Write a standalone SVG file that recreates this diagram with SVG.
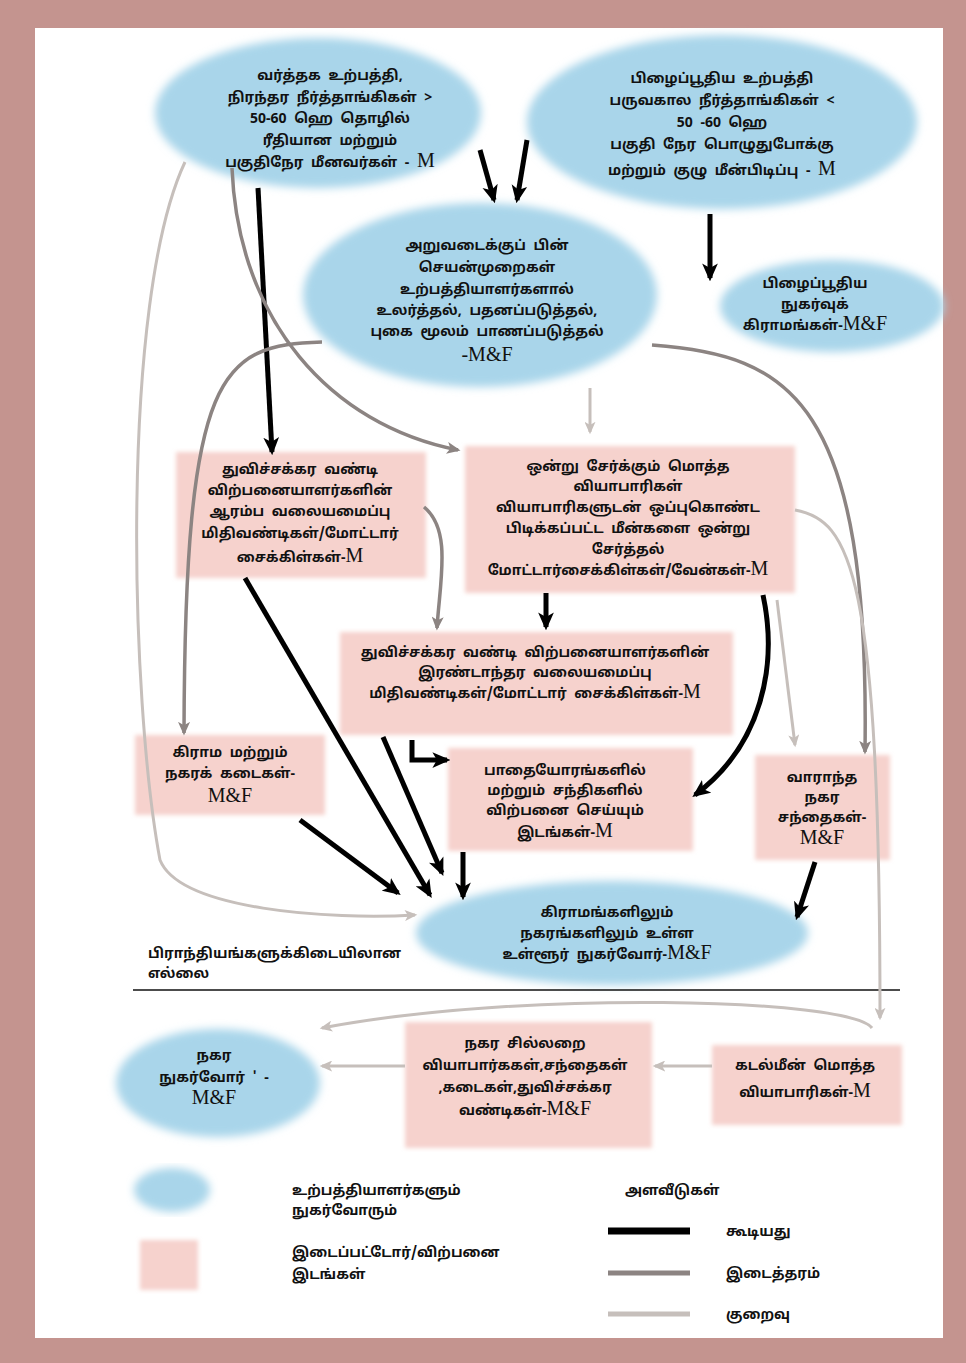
<svg xmlns="http://www.w3.org/2000/svg" width="966" height="1363" viewBox="0 0 966 1363">
  <style>
    .ta { font-family: "Noto Sans Tamil", "Lohit Tamil", "Noto Sans", "DejaVu Sans", sans-serif; font-size: 14px; font-weight: 700; word-spacing: 4px; fill: #111; text-anchor: middle; }
    .lt { text-anchor: start; }
    .lat { font-family: "Liberation Serif", serif; font-size: 20px; font-weight: 400; }
    .blue { fill: #a9d5ea; filter: url(#soft); }
    .pink { fill: #f6d2cd; filter: url(#soft2); }
    .hi { stroke: #000; stroke-width: 5; fill: none; marker-end: url(#ahB); }
    .md { stroke: #8c8482; stroke-width: 3.5; fill: none; marker-end: url(#ahM); }
    .lo { stroke: #c6bfbb; stroke-width: 3; fill: none; marker-end: url(#ahL); }
  </style>
  <defs>
    <filter id="soft" x="-10%" y="-10%" width="120%" height="120%"><feGaussianBlur stdDeviation="4"/></filter>
    <filter id="soft2" x="-10%" y="-10%" width="120%" height="120%"><feGaussianBlur stdDeviation="2"/></filter>
    <marker id="ahB" viewBox="0 0 16 14" refX="13" refY="7" markerWidth="18" markerHeight="16" markerUnits="userSpaceOnUse" orient="auto">
      <path d="M0,0 L16,7 L0,14 L4,7 z" fill="#000"/>
    </marker>
    <marker id="ahM" viewBox="0 0 16 14" refX="13" refY="7" markerWidth="14" markerHeight="12" markerUnits="userSpaceOnUse" orient="auto">
      <path d="M0,0 L16,7 L0,14 L4,7 z" fill="#8c8482"/>
    </marker>
    <marker id="ahL" viewBox="0 0 16 14" refX="13" refY="7" markerWidth="13" markerHeight="11" markerUnits="userSpaceOnUse" orient="auto">
      <path d="M0,0 L16,7 L0,14 L4,7 z" fill="#c6bfbb"/>
    </marker>
  </defs>

  <!-- frame -->
  <rect x="0" y="0" width="966" height="1363" fill="#c4948f"/>
  <rect x="35" y="28" width="908" height="1310" fill="#ffffff"/>

  <!-- nodes -->
  <g id="n-commercial">
    <ellipse class="blue" cx="318" cy="113" rx="163" ry="75"/>
    <text class="ta" x="330" y="80">வர்த்தக உற்பத்தி,</text>
    <text class="ta" x="330" y="102">நிரந்தர நீர்த்தாங்கிகள் &gt;</text>
    <text class="ta" x="330" y="123">50-60 ஹெ தொழில்</text>
    <text class="ta" x="330" y="145">ரீதியான மற்றும்</text>
    <text class="ta" x="330" y="167">பகுதிநேர மீனவர்கள் - <tspan class="lat">M</tspan></text>
  </g>

  <g id="n-subsistence">
    <ellipse class="blue" cx="722" cy="122" rx="195" ry="87"/>
    <text class="ta" x="722" y="83">பிழைப்பூதிய உற்பத்தி</text>
    <text class="ta" x="722" y="105">பருவகால நீர்த்தாங்கிகள் &lt;</text>
    <text class="ta" x="722" y="127">50 -60 ஹெ</text>
    <text class="ta" x="722" y="149">பகுதி நேர பொழுதுபோக்கு</text>
    <text class="ta" x="722" y="175">மற்றும் குழு மீன்பிடிப்பு - <tspan class="lat">M</tspan></text>
  </g>

  <g id="n-postharvest">
    <ellipse class="blue" cx="480" cy="295" rx="177" ry="92"/>
    <text class="ta" x="487" y="250">அறுவடைக்குப் பின்</text>
    <text class="ta" x="487" y="272">செயன்முறைகள்</text>
    <text class="ta" x="487" y="294">உற்பத்தியாளர்களால்</text>
    <text class="ta" x="487" y="315">உலர்த்தல், பதனப்படுத்தல்,</text>
    <text class="ta" x="487" y="336">புகை மூலம் பாணப்படுத்தல்</text>
    <text class="ta" x="487" y="361"><tspan class="lat">-M&amp;F</tspan></text>
  </g>

  <g id="n-subsistence-villages">
    <ellipse class="blue" cx="832" cy="306" rx="112" ry="46"/>
    <text class="ta" x="815" y="288">பிழைப்பூதிய</text>
    <text class="ta" x="815" y="309">நுகர்வுக்</text>
    <text class="ta" x="815" y="330">கிராமங்கள்-<tspan class="lat">M&amp;F</tspan></text>
  </g>

  <g id="n-bicycle-primary">
    <rect class="pink" x="176" y="452" width="250" height="126"/>
    <text class="ta" x="300" y="474">துவிச்சக்கர வண்டி</text>
    <text class="ta" x="300" y="495">விற்பனையாளர்களின்</text>
    <text class="ta" x="300" y="516">ஆரம்ப வலையமைப்பு</text>
    <text class="ta" x="300" y="538">மிதிவண்டிகள்/மோட்டார்</text>
    <text class="ta" x="300" y="562">சைக்கிள்கள்-<tspan class="lat">M</tspan></text>
  </g>

  <g id="n-collectors">
    <rect class="pink" x="465" y="446" width="330" height="147"/>
    <text class="ta" x="628" y="471">ஒன்று சேர்க்கும் மொத்த</text>
    <text class="ta" x="628" y="491">வியாபாரிகள்</text>
    <text class="ta" x="628" y="512">வியாபாரிகளுடன் ஒப்புகொண்ட</text>
    <text class="ta" x="628" y="533">பிடிக்கப்பட்ட மீன்களை ஒன்று</text>
    <text class="ta" x="628" y="554">சேர்த்தல்</text>
    <text class="ta" x="628" y="575">மோட்டார்சைக்கிள்கள்/வேன்கள்-<tspan class="lat">M</tspan></text>
  </g>

  <g id="n-bicycle-secondary">
    <rect class="pink" x="340" y="632" width="393" height="103"/>
    <text class="ta" x="535" y="657">துவிச்சக்கர வண்டி விற்பனையாளர்களின்</text>
    <text class="ta" x="535" y="677">இரண்டாந்தர வலையமைப்பு</text>
    <text class="ta" x="535" y="698">மிதிவண்டிகள்/மோட்டார் சைக்கிள்கள்-<tspan class="lat">M</tspan></text>
  </g>

  <g id="n-shops">
    <rect class="pink" x="135" y="735" width="190" height="80"/>
    <text class="ta" x="230" y="757">கிராம மற்றும்</text>
    <text class="ta" x="230" y="778">நகரக் கடைகள்-</text>
    <text class="ta" x="230" y="802"><tspan class="lat">M&amp;F</tspan></text>
  </g>

  <g id="n-roadside">
    <rect class="pink" x="448" y="748" width="245" height="103"/>
    <text class="ta" x="565" y="775">பாதையோரங்களில்</text>
    <text class="ta" x="565" y="795">மற்றும் சந்திகளில்</text>
    <text class="ta" x="565" y="815">விற்பனை செய்யும்</text>
    <text class="ta" x="565" y="837">இடங்கள்-<tspan class="lat">M</tspan></text>
  </g>

  <g id="n-weekly">
    <rect class="pink" x="755" y="755" width="135" height="105"/>
    <text class="ta" x="822" y="782">வாராந்த</text>
    <text class="ta" x="822" y="802">நகர</text>
    <text class="ta" x="822" y="822">சந்தைகள்-</text>
    <text class="ta" x="822" y="844"><tspan class="lat">M&amp;F</tspan></text>
  </g>

  <g id="n-local-consumers">
    <ellipse class="blue" cx="612" cy="933" rx="196" ry="52"/>
    <text class="ta" x="607" y="917">கிராமங்களிலும்</text>
    <text class="ta" x="607" y="938">நகரங்களிலும் உள்ள</text>
    <text class="ta" x="607" y="959">உள்ளூர் நுகர்வோர்-<tspan class="lat">M&amp;F</tspan></text>
  </g>

  <g id="n-boundary">
    <text class="ta lt" x="148" y="958">பிராந்தியங்களுக்கிடையிலான</text>
    <text class="ta lt" x="148" y="978">எல்லை</text>
    <line x1="133" y1="990" x2="900" y2="990" stroke="#111" stroke-width="1.5"/>
  </g>

  <g id="n-urban-consumers">
    <ellipse class="blue" cx="218" cy="1083" rx="102" ry="54"/>
    <text class="ta" x="214" y="1060">நகர</text>
    <text class="ta" x="214" y="1082">நுகர்வோர் ' -</text>
    <text class="ta" x="214" y="1104"><tspan class="lat">M&amp;F</tspan></text>
  </g>

  <g id="n-urban-retail">
    <rect class="pink" x="405" y="1022" width="247" height="126"/>
    <text class="ta" x="525" y="1048">நகர சில்லறை</text>
    <text class="ta" x="525" y="1070">வியாபார்ககள்,சந்தைகள்</text>
    <text class="ta" x="525" y="1092">,கடைகள்,துவிச்சக்கர</text>
    <text class="ta" x="525" y="1115">வண்டிகள்-<tspan class="lat">M&amp;F</tspan></text>
  </g>

  <g id="n-marine-wholesale">
    <rect class="pink" x="712" y="1045" width="190" height="80"/>
    <text class="ta" x="805" y="1070">கடல்மீன் மொத்த</text>
    <text class="ta" x="805" y="1097">வியாபாரிகள்-<tspan class="lat">M</tspan></text>
  </g>

  <!-- connectors -->
  <g id="connectors">
    <!-- high volume -->
    <path class="hi" d="M258,188 L272,452"/>
    <path class="hi" d="M480,150 L494,200"/>
    <path class="hi" d="M527,140 L517,200"/>
    <path class="hi" d="M710,214 L710,278"/>
    <path class="hi" d="M546,593 L546,627"/>
    <path class="hi" d="M763,595 C778,665 762,745 695,795"/>
    <path class="hi" d="M245,578 L430,895"/>
    <path class="hi" d="M383,737 L442,873"/>
    <path class="hi" d="M300,820 L398,893"/>
    <path class="hi" d="M463,852 L463,897"/>
    <path class="hi" d="M412,740 L412,760 L447,760"/>
    <path class="hi" d="M815,862 L797,917"/>
    <!-- medium volume -->
    <path class="md" d="M232,168 C238,320 330,425 458,450"/>
    <path class="md" d="M322,342 C220,345 185,370 184,733"/>
    <path class="md" d="M652,345 C790,355 870,400 865,752"/>
    <path class="md" d="M424,507 C452,530 440,580 437,628"/>
    <!-- low volume -->
    <path class="lo" d="M590,388 L590,432"/>
    <path class="lo" d="M185,162 C120,300 130,700 160,860 C180,910 330,920 415,915"/>
    <path class="lo" d="M795,510 C850,520 880,570 880,1018"/>
    <path class="lo" d="M777,600 L795,745"/>
    <path class="lo" d="M872,1028 C850,998 520,990 322,1028"/>
    <path class="lo" d="M405,1066 L322,1066"/>
    <path class="lo" d="M712,1066 L655,1066"/>
  </g>

  <!-- legend -->
  <g id="legend">
    <ellipse class="blue" cx="172" cy="1190" rx="38" ry="22"/>
    <rect class="pink" x="140" y="1240" width="58" height="50"/>
    <text class="ta lt" x="292" y="1195">உற்பத்தியாளர்களும்</text>
    <text class="ta lt" x="292" y="1215">நுகர்வோரும்</text>
    <text class="ta lt" x="292" y="1257">இடைப்பட்டோர்/விற்பனை</text>
    <text class="ta lt" x="292" y="1279">இடங்கள்</text>
    <text class="ta lt" x="625" y="1195">அளவீடுகள்</text>
    <line x1="608" y1="1231" x2="690" y2="1231" stroke="#000" stroke-width="7"/>
    <line x1="608" y1="1273" x2="690" y2="1273" stroke="#8c8482" stroke-width="5"/>
    <line x1="608" y1="1314" x2="690" y2="1314" stroke="#c6bfbb" stroke-width="5"/>
    <text class="ta lt" x="726" y="1236">கூடியது</text>
    <text class="ta lt" x="726" y="1278">இடைத்தரம்</text>
    <text class="ta lt" x="726" y="1319">குறைவு</text>
  </g>
</svg>
